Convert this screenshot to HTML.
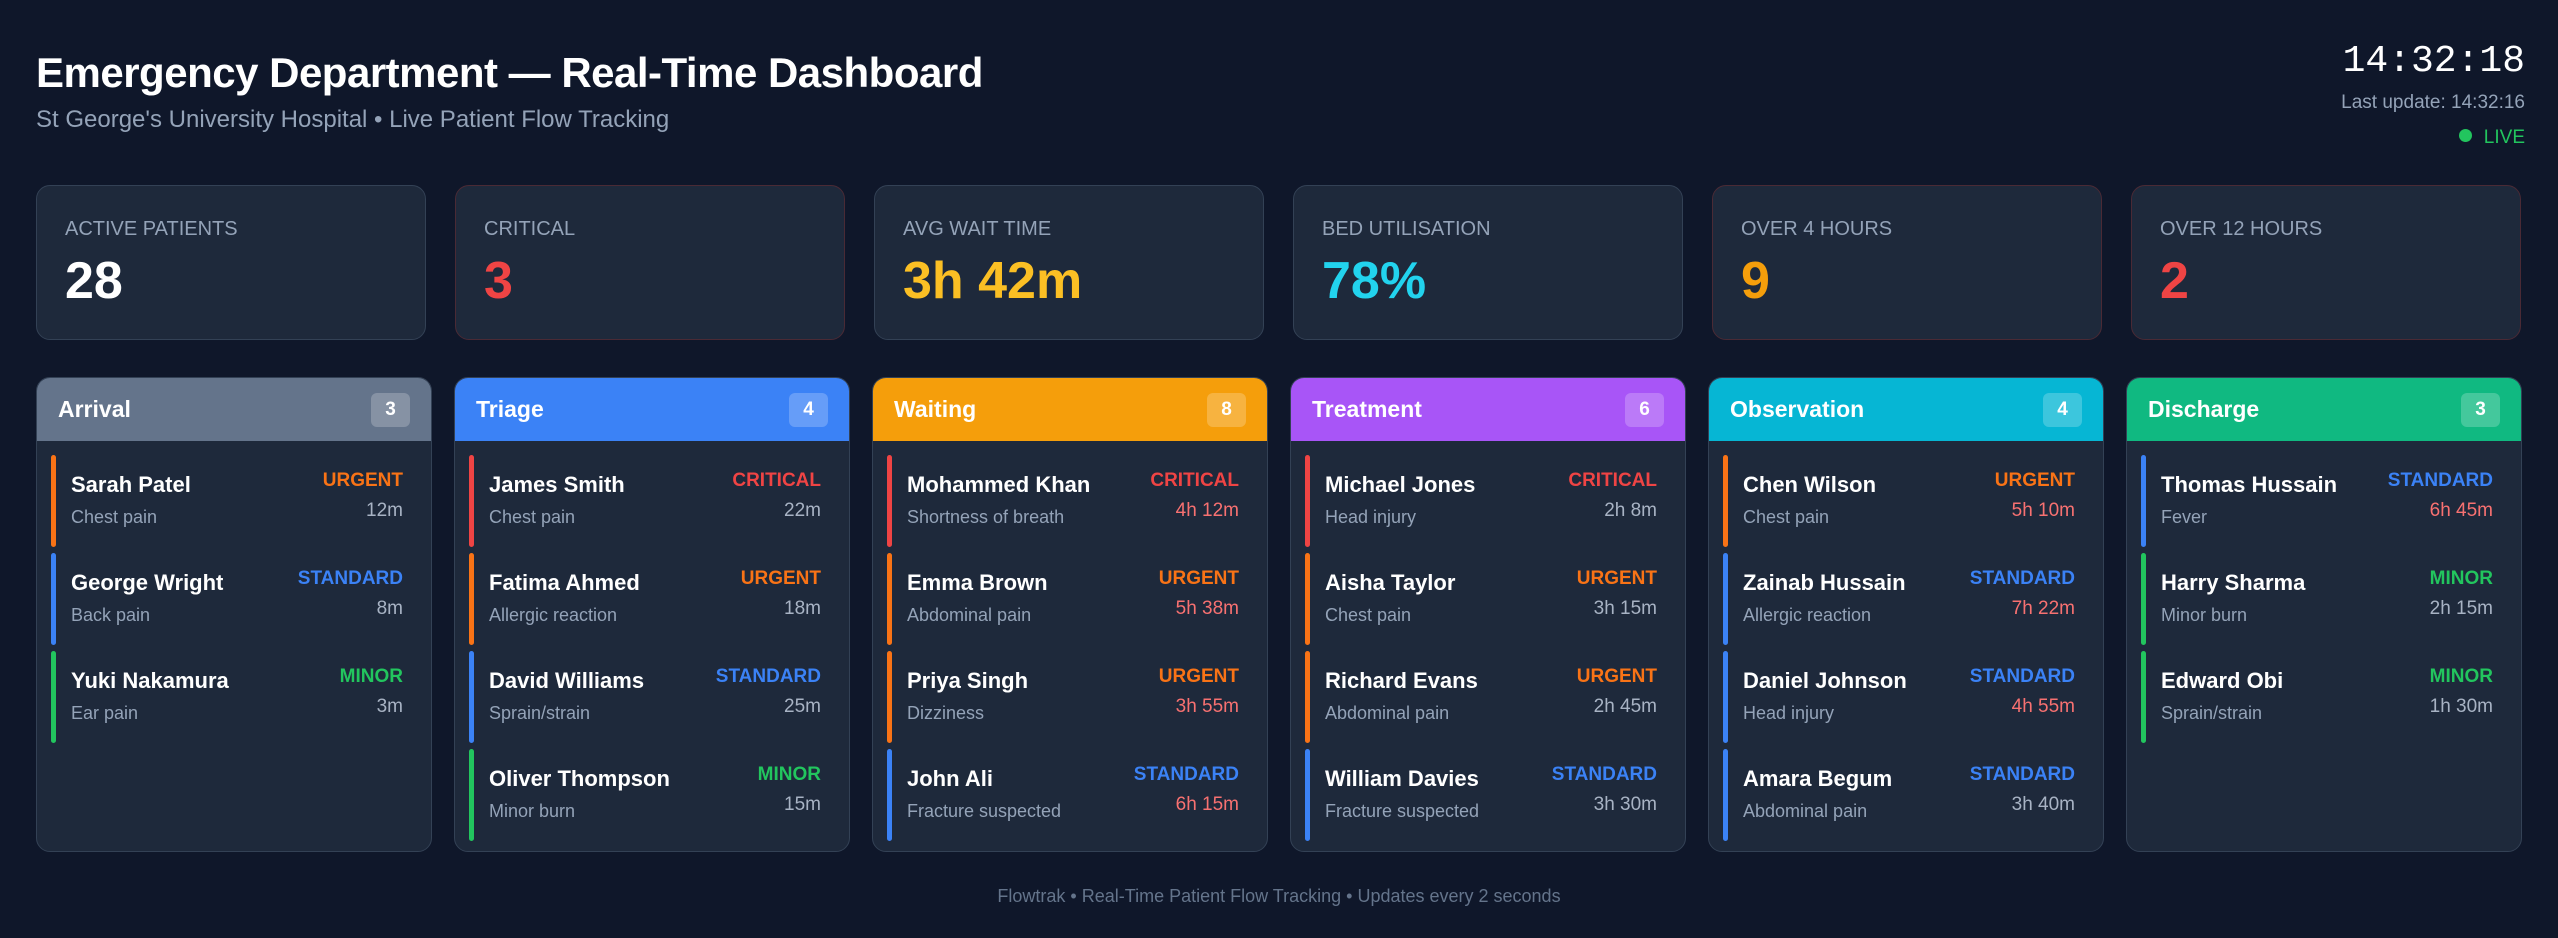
<!DOCTYPE html>
<html><head><meta charset="utf-8"><style>
*{box-sizing:border-box;margin:0;padding:0}
body{width:2558px;height:938px;background:#0f172a;font-family:"Liberation Sans",sans-serif;color:#f1f5f9;position:relative;overflow:hidden}
.title{position:absolute;left:36px;top:49px;font-size:42px;font-weight:bold;color:#fff;letter-spacing:-0.5px}
.sub{position:absolute;left:36px;top:106px;font-size:24px;color:#94a3b8}
.clock{position:absolute;right:33px;top:40px;font-family:"Liberation Mono",monospace;font-size:38px;color:#fff}
.upd{position:absolute;right:33px;top:92px;font-size:19px;color:#94a3b8}
.live{position:absolute;right:33px;top:127px;font-size:19px;color:#22c55e}
.live i{display:inline-block;width:13px;height:13px;border-radius:50%;background:#22c55e;margin-right:12px;vertical-align:1px}
.stats{position:absolute;left:36px;top:185px;width:2486px;display:flex;gap:29px}
.stat{width:390px;height:155px;background:#1e293b;border:1px solid #334155;border-radius:14px;padding:32px 28px}
.stat.red{border-color:#4a2a35}
.stat .l{font-size:20px;color:#94a3b8}
.stat .v{font-size:52px;font-weight:bold;margin-top:10px}
.cols{position:absolute;left:36px;top:377px;width:2486px;display:flex;gap:22px}
.col{width:396px;height:475px;background:#1e293b;border:1px solid #334155;border-radius:14px;overflow:hidden}
.hd{height:63px;display:flex;align-items:center;justify-content:space-between;padding:0 21px;font-size:23px;font-weight:bold;color:#fff}
.badge{width:39px;height:34px;border-radius:6px;background:rgba(255,255,255,0.22);font-size:19px;display:flex;align-items:center;justify-content:center}
.list{padding:14px 28px 0 14px}
.pc{position:relative;height:92px;margin-bottom:6px;padding:15px 0 0 20px}
.pc::before{content:"";position:absolute;left:0;top:0;width:5px;height:92px;border-radius:3px;background:var(--c)}
.nm{font-size:22px;font-weight:bold;color:#fff;margin-top:2px}
.cp{font-size:18px;color:#94a3b8;margin-top:9px}
.pr{position:absolute;right:0;top:15px;font-size:19px;font-weight:bold;color:var(--c)}
.tm{position:absolute;right:0;top:45px;font-size:19px;color:#a8b3c4}
.tm.late{color:#f87171}
.foot{position:absolute;left:0;width:100%;top:886px;text-align:center;font-size:18px;color:#64748b}
</style></head><body>
<div class="title">Emergency Department — Real-Time Dashboard</div>
<div class="sub">St George's University Hospital • Live Patient Flow Tracking</div>
<div class="clock">14:32:18</div>
<div class="upd">Last update: 14:32:16</div>
<div class="live"><i></i>LIVE</div>
<div class="stats">
<div class="stat"><div class="l">ACTIVE PATIENTS</div><div class="v" style="color:#fff">28</div></div>
<div class="stat red"><div class="l">CRITICAL</div><div class="v" style="color:#ef4444">3</div></div>
<div class="stat"><div class="l">AVG WAIT TIME</div><div class="v" style="color:#fbbf24">3h 42m</div></div>
<div class="stat"><div class="l">BED UTILISATION</div><div class="v" style="color:#22d3ee">78%</div></div>
<div class="stat red"><div class="l">OVER 4 HOURS</div><div class="v" style="color:#f59e0b">9</div></div>
<div class="stat red"><div class="l">OVER 12 HOURS</div><div class="v" style="color:#ef4444">2</div></div>
</div>
<div class="cols" id="cols"></div>
<div class="foot">Flowtrak • Real-Time Patient Flow Tracking • Updates every 2 seconds</div>
<script>
const stages=[["Arrival","#64748b"],["Triage","#3b82f6"],["Waiting","#f59e0b"],["Treatment","#a855f7"],["Observation","#06b6d4"],["Discharge","#10b981"]];
const prColors={CRITICAL:"#ef4444",URGENT:"#f97316",STANDARD:"#3b82f6",MINOR:"#22c55e"};
const patients=[
[["Sarah Patel","Chest pain","URGENT","12m",0],["George Wright","Back pain","STANDARD","8m",0],["Yuki Nakamura","Ear pain","MINOR","3m",0]],
[["James Smith","Chest pain","CRITICAL","22m",0],["Fatima Ahmed","Allergic reaction","URGENT","18m",0],["David Williams","Sprain/strain","STANDARD","25m",0],["Oliver Thompson","Minor burn","MINOR","15m",0]],
[["Mohammed Khan","Shortness of breath","CRITICAL","4h 12m",1],["Emma Brown","Abdominal pain","URGENT","5h 38m",1],["Priya Singh","Dizziness","URGENT","3h 55m",1],["John Ali","Fracture suspected","STANDARD","6h 15m",1]],
[["Michael Jones","Head injury","CRITICAL","2h 8m",0],["Aisha Taylor","Chest pain","URGENT","3h 15m",0],["Richard Evans","Abdominal pain","URGENT","2h 45m",0],["William Davies","Fracture suspected","STANDARD","3h 30m",0]],
[["Chen Wilson","Chest pain","URGENT","5h 10m",1],["Zainab Hussain","Allergic reaction","STANDARD","7h 22m",1],["Daniel Johnson","Head injury","STANDARD","4h 55m",1],["Amara Begum","Abdominal pain","STANDARD","3h 40m",0]],
[["Thomas Hussain","Fever","STANDARD","6h 45m",1],["Harry Sharma","Minor burn","MINOR","2h 15m",0],["Edward Obi","Sprain/strain","MINOR","1h 30m",0]]
];
const counts=[3,4,8,6,4,3];
const cols=document.getElementById('cols');
stages.forEach((s,i)=>{
 const c=document.createElement('div');c.className='col';
 
 
 c.innerHTML='<div class="hd" style="background:'+s[1]+'"><span>'+s[0]+'</span><span class="badge">'+counts[i]+'</span></div>';
 const l=document.createElement('div');l.className='list';
 patients[i].forEach(p=>{
  const d=document.createElement('div');d.className='pc';
  
  
  d.style.setProperty('--c',prColors[p[2]]);
  d.innerHTML='<div class="nm">'+p[0]+'</div><div class="cp">'+p[1]+'</div><div class="pr">'+p[2]+'</div><div class="tm'+(p[4]?' late':'')+'">'+p[3]+'</div>';
  l.appendChild(d);
 });
 c.appendChild(l);cols.appendChild(c);
});
</script>
</body></html>
